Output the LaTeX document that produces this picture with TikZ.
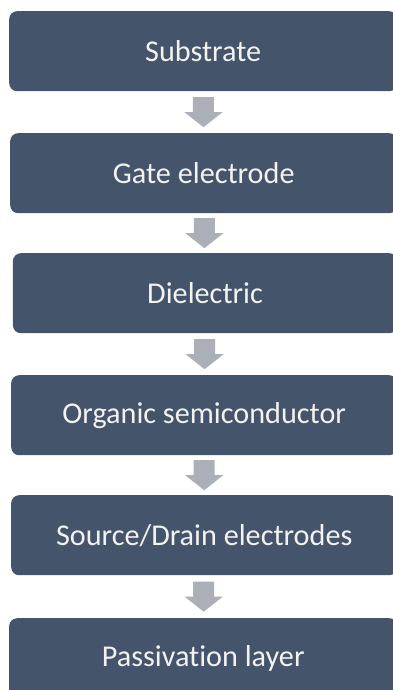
\documentclass[tikz,border=0pt]{standalone}
\usepackage{fontspec}
\setmainfont[Ligatures=NoCommon]{Carlito}
\usetikzlibrary{calc}
\definecolor{stepfill}{HTML}{44546A}
\definecolor{arrowfill}{HTML}{ABB0B8}
\definecolor{steptext}{HTML}{F2F2F2}
\tikzset{
  stepbox/.style={fill=stepfill, draw=none, rounded corners=8pt, text=steptext,
    minimum height=80pt, inner sep=0pt, anchor=north west,
    font=\fontsize{30.2}{36}\selectfont},
  flowarrow/.style={fill=arrowfill, draw=none}
}
% stepbox{name}{left}{top}{text}: a box that runs off the right edge at x=397
\newcommand{\stepnode}[4]{%
  \node[stepbox, minimum width={397pt-#2pt}] (#1) at (#2,#3) {#4};}
% block arrow centred in the gap between two boxes
\newcommand{\flowlink}[2]{%
  \coordinate (m-#1) at ($(#1.south)!0.5!(#2.north)$);
  \fill[flowarrow]
    ($(m-#1)+(-10.5,-15)$) -- ($(m-#1)+(10.5,-15)$) -- ($(m-#1)+(10.5,0)$) --
    ($(m-#1)+(19,0)$) -- ($(m-#1)+(0,15)$) -- ($(m-#1)+(-19,0)$) --
    ($(m-#1)+(-10.5,0)$) -- cycle;}
\begin{document}
\begin{tikzpicture}[x=1pt, y=-1pt]
  \useasboundingbox (0,0) rectangle (393,690);
  \clip (0,0) rectangle (393,690);
  \fill[white] (0,0) rectangle (393,690);
  \stepnode{s1}{9}{11}{Substrate}
  \stepnode{s2}{10}{133}{Gate electrode}
  \stepnode{s3}{12.7}{253}{Dielectric}
  \stepnode{s4}{11}{375}{Organic semiconductor}
  \stepnode{s5}{11}{495}{Source/Drain electrodes}
  \stepnode{s6}{9}{618}{Passivation layer}
  \flowlink{s1}{s2}
  \flowlink{s2}{s3}
  \flowlink{s3}{s4}
  \flowlink{s4}{s5}
  \flowlink{s5}{s6}
\end{tikzpicture}
\end{document}
